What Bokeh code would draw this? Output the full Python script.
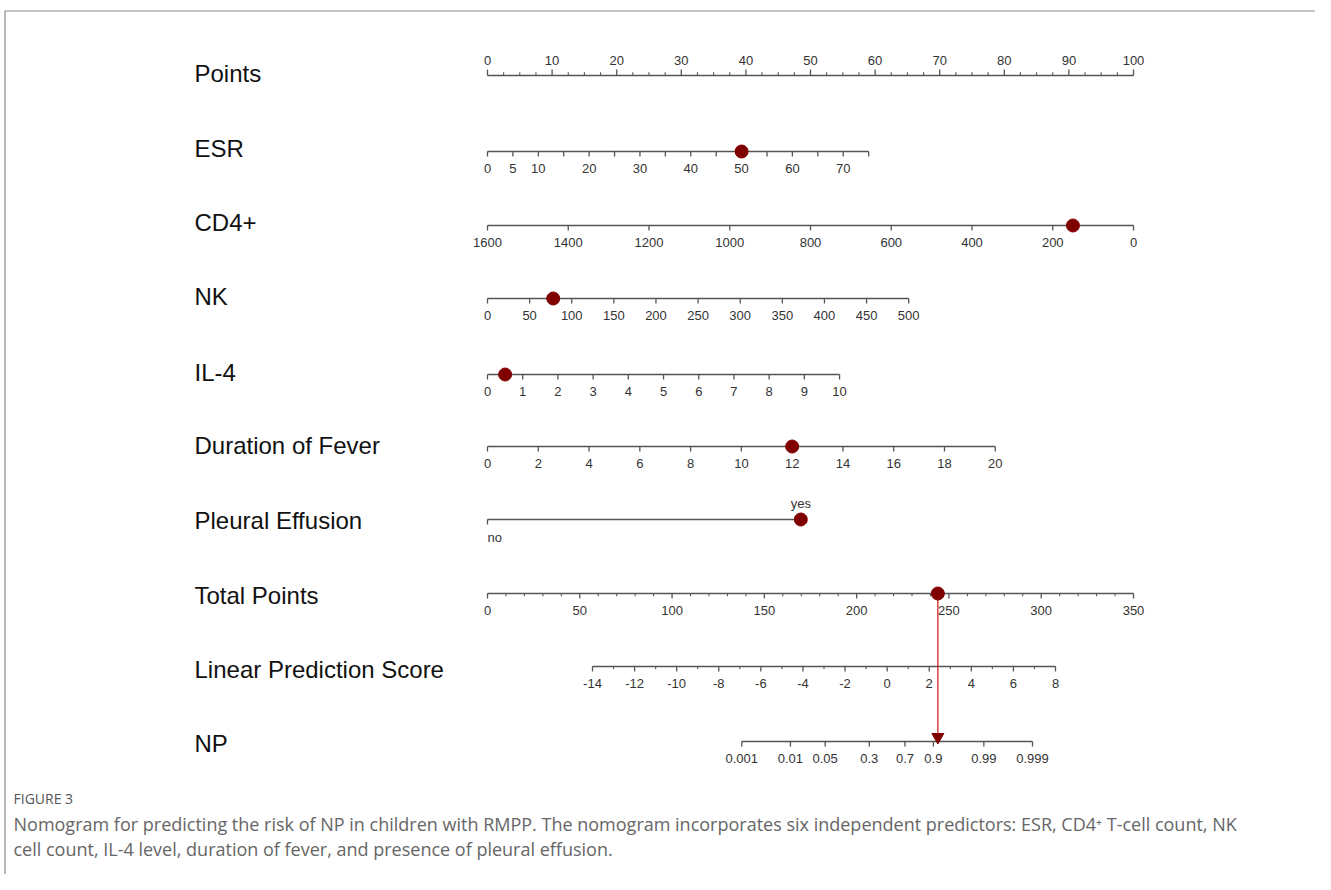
import math
from bokeh.plotting import figure
from bokeh.models import Range1d
from bokeh.core.properties import value
from bokeh.embed import file_html
from bokeh.resources import INLINE

# ---------------- data ----------------
row_names = ["Points", "ESR", "CD4+", "NK", "IL-4", "Duration of Fever",
             "Pleural Effusion", "Total Points", "Linear Prediction Score", "NP"]

points_ticks = [i * 2.5 for i in range(41)]
points_labels = list(range(0, 101, 10))

esr_range = [0, 75]
esr_points = [0, 59.0]
esr_ticks = list(range(0, 76, 5))
esr_labels = [0, 5, 10, 20, 30, 40, 50, 60, 70]

cd4_range = [1600, 0]
cd4_points = [0, 100]
cd4_ticks = list(range(0, 1601, 200))
cd4_labels = list(range(0, 1601, 200))

nk_range = [0, 500]
nk_points = [0, 65.2]
nk_ticks = list(range(0, 501, 50))
nk_labels = list(range(0, 501, 50))

il4_range = [0, 10]
il4_points = [0, 54.5]
il4_ticks = list(range(0, 11))
il4_labels = list(range(0, 11))

fever_range = [0, 20]
fever_points = [0, 78.6]
fever_ticks = list(range(0, 21, 2))
fever_labels = list(range(0, 21, 2))

pleural_levels = ["no", "yes"]
pleural_points = [0, 48.5]

total_range = [0, 350]
total_ticks = list(range(0, 351, 10))
total_labels = list(range(0, 351, 50))

lp_intercept = -18.989
lp_slope = 0.0877
lp_ticks = list(range(-14, 9))
lp_labels = list(range(-14, 9, 2))

np_labels = [0.001, 0.01, 0.05, 0.3, 0.7, 0.9, 0.99, 0.999]
np_label_text = ["0.001", "0.01", "0.05", "0.3", "0.7", "0.9", "0.99", "0.999"]

# example patient
patient_esr = 50
patient_cd4 = 150
patient_nk = 78
patient_il4 = 0.5
patient_fever = 12
patient_pleural = "yes"
patient_total = 244

caption_head = "FIGURE 3"
caption_lines = [
    "Nomogram for predicting the risk of NP in children with RMPP. The nomogram incorporates six independent predictors: ESR, CD4\u207a T-cell count, NK",
    "cell count, IL-4 level, duration of fever, and presence of pleural effusion.",
]

# ---------------- layout ----------------
W, H = 1315, 874
X_PTS0, X_PTS1 = 487.0, 1133.0
NAME_X = 194
ROW_Y = [75, 151, 225, 298, 374, 446, 519, 593, 666, 741]
NAME_Y = [73, 148, 222, 296, 372, 445, 520, 595, 669, 743]
LABEL_OFF = 17
TICK_LEN = 5
AXIS_COLOR = "#555555"
TXT_COLOR = "#333333"
DOT_COLOR = "#800000"
FONT = value("Liberation Sans")

p = figure(width=W, height=H, x_range=Range1d(0, W), y_range=Range1d(H, 0),
           output_backend="svg", toolbar_location=None, min_border=0)
p.axis.visible = False
p.grid.visible = False
p.outline_line_color = None
p.background_fill_color = "white"


def px(pts):
    return X_PTS0 + pts * (X_PTS1 - X_PTS0) / 100.0


def var_x(v, rng, pts):
    return px(pts[0] + (pts[1] - pts[0]) * (v - rng[0]) / (rng[1] - rng[0]))


def total_x(tp):
    return px(tp * 100.0 / (total_range[1] - total_range[0]))


def lp_x(lp):
    return total_x((lp - lp_intercept) / lp_slope)


def np_x(prob):
    return lp_x(math.log(prob / (1 - prob)))


def draw_axis(y, tick_xs, label_xs, label_txt, up=False, minor_xs=None, label_above=False):
    xs = tick_xs + (minor_xs or [])
    p.line([min(xs), max(xs)], [y, y], line_color=AXIS_COLOR, line_width=1.3)
    d = -TICK_LEN - 1 if up else TICK_LEN
    p.segment(x0=tick_xs, y0=[y] * len(tick_xs), x1=tick_xs, y1=[y + d] * len(tick_xs),
              line_color=AXIS_COLOR, line_width=1.3)
    if minor_xs:
        dm = d * 0.55
        p.segment(x0=minor_xs, y0=[y] * len(minor_xs), x1=minor_xs, y1=[y + dm] * len(minor_xs),
                  line_color=AXIS_COLOR, line_width=1.1)
    ly = y - 15 if label_above else y + LABEL_OFF
    p.text(x=label_xs, y=[ly] * len(label_xs), text=label_txt, text_font=FONT,
           text_font_size="13px", text_color=TXT_COLOR, text_align="center",
           text_baseline="middle")


# row names
p.text(x=[NAME_X] * len(row_names), y=NAME_Y, text=row_names, text_font=FONT,
       text_font_size="24px", text_color="#111111", text_align="left", text_baseline="middle")

# Points
major = [px(v) for v in points_ticks if v % 10 == 0]
minor = [px(v) for v in points_ticks if v % 10 != 0]
draw_axis(ROW_Y[0], major, [px(v) for v in points_labels], [str(v) for v in points_labels],
          up=True, minor_xs=minor, label_above=True)

# ESR
draw_axis(ROW_Y[1], [var_x(v, esr_range, esr_points) for v in esr_ticks],
          [var_x(v, esr_range, esr_points) for v in esr_labels], [str(v) for v in esr_labels])
# CD4
draw_axis(ROW_Y[2], [var_x(v, cd4_range, cd4_points) for v in cd4_ticks],
          [var_x(v, cd4_range, cd4_points) for v in cd4_labels], [str(v) for v in cd4_labels])
# NK
draw_axis(ROW_Y[3], [var_x(v, nk_range, nk_points) for v in nk_ticks],
          [var_x(v, nk_range, nk_points) for v in nk_labels], [str(v) for v in nk_labels])
# IL-4
draw_axis(ROW_Y[4], [var_x(v, il4_range, il4_points) for v in il4_ticks],
          [var_x(v, il4_range, il4_points) for v in il4_labels], [str(v) for v in il4_labels])
# Fever
draw_axis(ROW_Y[5], [var_x(v, fever_range, fever_points) for v in fever_ticks],
          [var_x(v, fever_range, fever_points) for v in fever_labels], [str(v) for v in fever_labels])

# Pleural effusion
yp = ROW_Y[6]
pl_x = [px(v) for v in pleural_points]
p.line(pl_x, [yp, yp], line_color=AXIS_COLOR, line_width=1.3)
p.segment(x0=[pl_x[0]], y0=[yp], x1=[pl_x[0]], y1=[yp + TICK_LEN], line_color=AXIS_COLOR, line_width=1.3)
p.segment(x0=[pl_x[1]], y0=[yp], x1=[pl_x[1]], y1=[yp - TICK_LEN], line_color=AXIS_COLOR, line_width=1.3)
p.text(x=[pl_x[0]], y=[yp + LABEL_OFF + 1], text=[pleural_levels[0]], text_font=FONT,
       text_font_size="13px", text_color=TXT_COLOR, text_align="left", text_baseline="middle")
p.text(x=[pl_x[1]], y=[yp - 16], text=[pleural_levels[1]], text_font=FONT,
       text_font_size="13px", text_color=TXT_COLOR, text_align="center", text_baseline="middle")

# Total points
tmaj = [total_x(v) for v in total_ticks if v % 50 == 0]
tmin = [total_x(v) for v in total_ticks if v % 50 != 0]
draw_axis(ROW_Y[7], tmaj, [total_x(v) for v in total_labels], [str(v) for v in total_labels],
          minor_xs=tmin)

# Linear predictor
lmaj = [lp_x(v) for v in lp_ticks if v % 2 == 0]
lmin = [lp_x(v) for v in lp_ticks if v % 2 != 0]
draw_axis(ROW_Y[8], lmaj, [lp_x(v) for v in lp_labels], [str(v) for v in lp_labels],
          minor_xs=lmin)

# NP
draw_axis(ROW_Y[9], [np_x(v) for v in np_labels], [np_x(v) for v in np_labels], np_label_text)

# patient markers
pt_x = [
    var_x(patient_esr, esr_range, esr_points),
    var_x(patient_cd4, cd4_range, cd4_points),
    var_x(patient_nk, nk_range, nk_points),
    var_x(patient_il4, il4_range, il4_points),
    var_x(patient_fever, fever_range, fever_points),
    px(pleural_points[pleural_levels.index(patient_pleural)]),
    total_x(patient_total),
]
pt_y = ROW_Y[1:8]

tx = total_x(patient_total)
p.segment(x0=[tx], y0=[ROW_Y[7]], x1=[tx], y1=[ROW_Y[9] - 8], line_color="#c81414", line_width=1.2)
p.scatter(x=[tx], y=[ROW_Y[9] - 4.5], marker="inverted_triangle", size=12,
          fill_color=DOT_COLOR, line_color=DOT_COLOR)
p.scatter(x=pt_x, y=pt_y, size=13, fill_color=DOT_COLOR, line_color=DOT_COLOR)

# frame
p.line([4.5, 4.5, W], [H, 10.5, 10.5], line_color="#8a8a8a", line_width=1.2)

# caption
p.text(x=[13], y=[798], text=[caption_head], text_font=value("Open Sans"), text_font_size="14px",
       text_color="#555555", text_align="left", text_baseline="middle")
p.text(x=[13, 13], y=[823, 848], text=caption_lines, text_font=value("Open Sans"),
       text_font_size="18px", text_color="#666666", text_align="left", text_baseline="middle")

open("out.html", "w").write(file_html(p, INLINE))
